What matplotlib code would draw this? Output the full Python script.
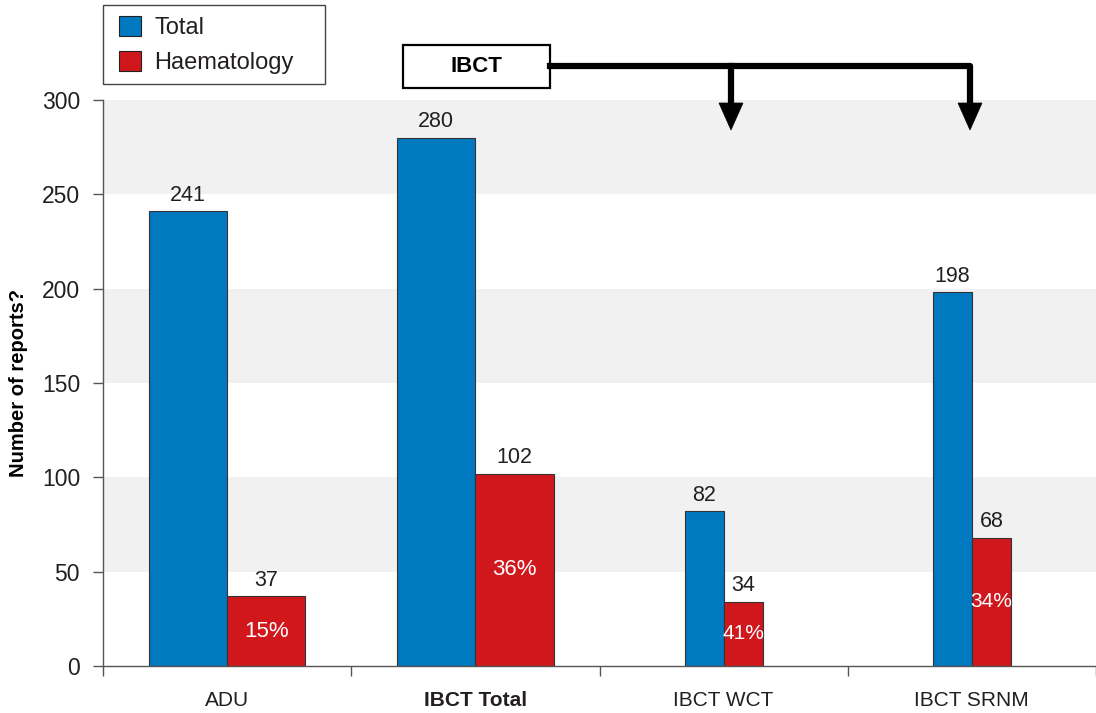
import matplotlib.pyplot as plt
from matplotlib.patches import Patch, Rectangle, Polygon
from matplotlib.lines import Line2D

plt.rcParams['font.family'] = ['Liberation Sans', 'DejaVu Sans']
plt.rcParams['text.color'] = '#231f20'

categories = ['ADU', 'IBCT Total', 'IBCT WCT', 'IBCT SRNM']
totals = [241, 280, 82, 198]
haematology = [37, 102, 34, 68]
haem_share = ['15%', '36%', '41%', '34%']

BLUE = '#0079c1'
RED = '#cf171c'
BAND = '#f1f1f1'
W, H = 1096, 713


def fig_xy(x, y):
    # pixel position (from top-left) -> figure fraction
    return x / W, 1 - y / H


fig = plt.figure(figsize=(W / 100, H / 100), dpi=100)
ax = fig.add_axes([103 / W, 1 - 666 / H, (1096 - 103) / W, 566 / H])

# alternating grey bands
for lo in (50, 150, 250):
    ax.axhspan(lo, lo + 50, color=BAND, lw=0, zorder=0)

widths = [0.315, 0.315, 0.157, 0.157]
for i, w in enumerate(widths):
    ax.bar(i - w / 2, totals[i], w, color=BLUE, edgecolor='#333333', lw=0.8, zorder=2)
    ax.bar(i + w / 2, haematology[i], w, color=RED, edgecolor='#333333', lw=0.8, zorder=2)
    ax.annotate(str(totals[i]), (i - w / 2, totals[i]), xytext=(0, 7.5),
                textcoords='offset points', ha='center', va='baseline', fontsize=15.5)
    ax.annotate(str(haematology[i]), (i + w / 2, haematology[i]), xytext=(0, 7.5),
                textcoords='offset points', ha='center', va='baseline', fontsize=15.5)
    ax.text(i + w / 2, haematology[i] / 2, haem_share[i], color='white',
            ha='center', va='center', fontsize=16 if w > 0.2 else 15, zorder=3)

ax.set_xlim(-0.5, 3.5)
ax.set_ylim(0, 300)
ax.set_yticks(range(0, 301, 50))
ax.set_xticks([-0.5, 0.5, 1.5, 2.5, 3.5])
ax.set_xticklabels([])
ax.set_xticks(range(len(categories)), minor=True)
ax.set_xticklabels(categories, minor=True, fontsize=15)
ax.get_xticklabels(minor=True)[1].set_fontweight('bold')

ax.tick_params(axis='y', length=7.5, width=1, color='#555555', pad=9,
               labelsize=16.5, labelcolor='#231f20')
ax.tick_params(axis='x', which='major', length=7, width=1, color='#555555')
ax.tick_params(axis='x', which='minor', length=0, pad=18, labelcolor='#231f20')

for side in ('top', 'right'):
    ax.spines[side].set_visible(False)
for side in ('left', 'bottom'):
    ax.spines[side].set_color('#555555')
    ax.spines[side].set_linewidth(1)

ax.set_ylabel('Number of reports?', fontsize=14.5, fontweight='bold')
ax.yaxis.set_label_coords(-75 / (1096 - 103), 0.5)

# legend drawn without its own frame; the box is a separate rectangle
handles = [Patch(facecolor=BLUE, edgecolor='#222222', lw=0.8, label='Total'),
           Patch(facecolor=RED, edgecolor='#222222', lw=0.8, label='Haematology')]
fig.legend(handles=handles, loc='upper left', bbox_to_anchor=fig_xy(106, 3),
           borderaxespad=0, fontsize=17, frameon=False,
           handlelength=0.95, handleheight=0.95, handletextpad=0.55,
           labelspacing=0.5, borderpad=0.55)
lx0, ly0 = fig_xy(103, 84)
lx1, ly1 = fig_xy(325, 5)
fig.add_artist(Rectangle((lx0, ly0), lx1 - lx0, ly1 - ly0, transform=fig.transFigure,
                         facecolor='none', edgecolor='#444444', lw=1))

# IBCT box with arrows down to the WCT and SRNM groups
x0, y0 = fig_xy(403, 88)
x1, y1 = fig_xy(550, 45)
fig.add_artist(Rectangle((x0, y0), x1 - x0, y1 - y0, transform=fig.transFigure,
                         facecolor='white', edgecolor='black', lw=1.6))
fig.text(*fig_xy(476, 67), 'IBCT', ha='center', va='center', fontsize=16,
         fontweight='bold', color='black')

path = [fig_xy(550, 66), fig_xy(970, 66), fig_xy(970, 110)]
fig.add_artist(Line2D([p[0] for p in path], [p[1] for p in path], color='black',
                      lw=4.5, solid_joinstyle='round', transform=fig.transFigure))
branch = [fig_xy(731, 66), fig_xy(731, 110)]
fig.add_artist(Line2D([p[0] for p in branch], [p[1] for p in branch], color='black',
                      lw=4.5, transform=fig.transFigure))
for cx in (731, 970):
    head = [fig_xy(cx - 12, 103), fig_xy(cx + 12, 103), fig_xy(cx, 130)]
    fig.add_artist(Polygon(head, closed=True, facecolor='black', edgecolor='black',
                           lw=0.5, transform=fig.transFigure))

fig.savefig('out.png', dpi=100)
